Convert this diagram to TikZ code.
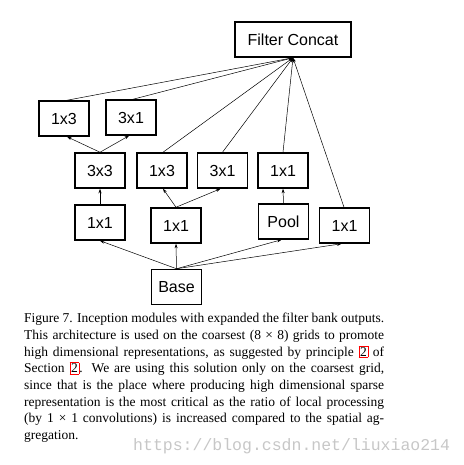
\documentclass[tikz,border=0pt]{standalone}
\usepackage{fontspec}
\setmainfont{Liberation Serif}
\newfontfamily\boxfont{Liberation Sans}
\newfontfamily\markfont{Liberation Mono}
\usetikzlibrary{arrows.meta}
\newcommand{\seclink}[1]{{\fboxsep=0.8pt\fboxrule=0.7pt\fcolorbox{red}{white}{#1}}}

\begin{document}
\begin{tikzpicture}[x=1pt, y=-1pt,
    layer/.style={draw, line width=1.5pt, minimum width=50pt, minimum height=35pt,
      inner sep=0pt, font=\boxfont\fontsize{16}{16}\selectfont},
    flow/.style={-{Stealth[length=4.5pt,width=3pt]}, line width=0.5pt}]
          \useasboundingbox (0,0) rectangle (463,465);
          \node[layer, minimum width=116pt] (concat) at (293,39.5) {Filter Concat};
          \node[layer] (ta) at (64,118.5) {1x3};
          \node[layer] (tb) at (131,117.5) {3x1};
          \node[layer] (sq) at (100,170.5) {3x3};
          \node[layer] (ma) at (162,170.5) {1x3};
          \node[layer] (mb) at (222.5,170.5) {3x1};
          \node[layer] (pp) at (283,170.5) {1x1};
          \node[layer] (ra) at (100,222.5) {1x1};
          \node[layer] (rb) at (176,225.5) {1x1};
          \node[layer] (pool) at (283.5,221.5) {Pool};
          \node[layer] (rd) at (344.5,225.5) {1x1};
          \node[layer] (base) at (176.5,287) {Base};
          % from the base upwards
          \draw[flow] (base.north) -- (ra.south);
          \draw[flow] (base.north) -- (rb.south);
          \draw[flow] (base.north) -- ([xshift=-2pt]pool.south);
          \draw[flow] (base.north) -- ([xshift=-3pt]rd.south);
          \draw[flow] (ra.north) -- (sq.south);
          \draw[flow] (rb.north) -- ([xshift=1pt]ma.south);
          \draw[flow] (rb.north) -- ([xshift=-2pt]mb.south);
          \draw[flow] (pool.north) -- (pp.south);
          \draw[flow] (sq.north) -- ([xshift=3pt]ta.south);
          \draw[flow] (sq.north) -- ([xshift=-2pt]tb.south);
          % into the concat
          \draw[flow] ([xshift=3pt]ta.north) -- (concat.south);
          \draw[flow] ([xshift=2pt]tb.north) -- (concat.south);
          \draw[flow] ([xshift=1pt]ma.north) -- (concat.south);
          \draw[flow] (mb.north) -- (concat.south);
          \draw[flow] (pp.north) -- (concat.south);
          \draw[flow] ([xshift=-0.5pt]rd.north) -- (concat.south);
          % caption
          \node[anchor=north west, inner sep=0pt, text width=360pt, align=justify,
            font=\fontsize{13.5}{16.7}\selectfont] (caption) at (24,313)
            {Figure 7. Inception modules with expanded the filter bank outputs.\linebreak
            This architecture is used on the coarsest (8 × 8) grids to promote\linebreak
            high dimensional representations, as suggested by principle \seclink{2} of\linebreak
            Section \seclink{2}. We are using this solution only on the coarsest grid,\linebreak
            since that is the place where producing high dimensional sparse\linebreak
            representation is the most critical as the ratio of local processing\linebreak
            (by 1 × 1 convolutions) is increased compared to the spatial ag-\linebreak
            gregation.};
          \node[anchor=base west, inner sep=0pt, text=black!22,
            font=\markfont\fontsize{16.5}{16.5}\selectfont] (mark) at (133,450)
            {https://blog.csdn.net/liuxiao214};
        \end{tikzpicture}
\end{document}
